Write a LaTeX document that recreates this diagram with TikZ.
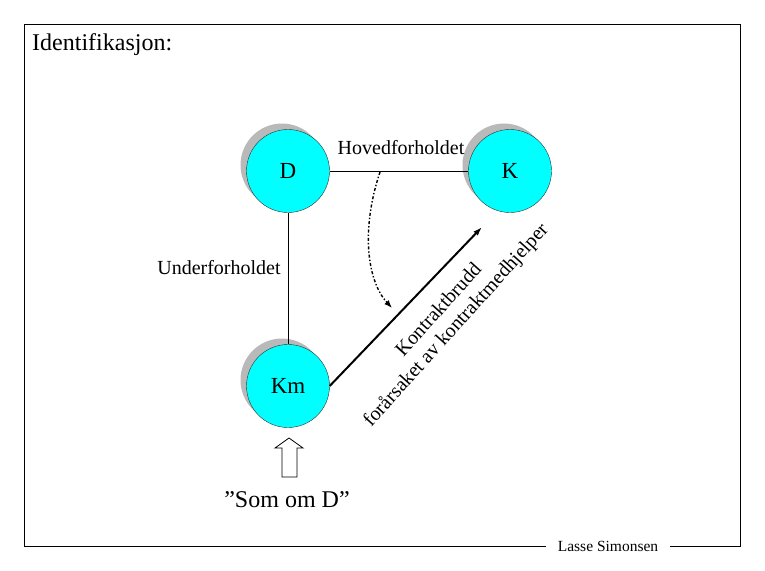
\documentclass[tikz,border=0pt]{standalone}
\usepackage{fontspec}
\setmainfont{Liberation Serif}
\usetikzlibrary{arrows.meta, shadows}
\definecolor{partyfill}{RGB}{0,255,255}

\begin{document}
\begin{tikzpicture}[x=1pt, y=-1pt,
    party/.style={circle, draw=black!80, fill=partyfill, minimum size=83pt, inner sep=0pt,
        font=\fontsize{23}{26}\selectfont,
        drop shadow={shadow xshift=-6pt, shadow yshift=6pt, fill=gray!55, opacity=1}},
    lbl/.style={font=\fontsize{20}{24}\selectfont, inner sep=0pt}]
    \useasboundingbox (0,0) rectangle (765,570);
    \draw[line width=0.8pt] (24,24) rectangle (740,546);
    \node[anchor=west, inner sep=0pt, font=\fontsize{24}{28}\selectfont] (title) at (32,45) {Identifikasjon:};

    \node[party] (d) at (288,171) {D};
    \node[party] (k) at (510,171) {K};
    \node[party] (km) at (288,386) {Km};

    \draw[line width=0.8pt] (d) -- (k);
    \draw[line width=0.8pt] (d) -- (km);
    \node[lbl] (hoved) at (401,148) {Hovedforholdet};
    \node[lbl] (under) at (219,268) {Underforholdet};

    % kontraktbrudd
    \coordinate (tip) at (482,227);
    \draw[line width=2pt, -{Latex[length=9pt, width=6pt]}] (km.east) -- (tip);
    \node[lbl, rotate=48, align=center, font=\fontsize{20}{23}\selectfont] (brudd) at (448,318)
        {Kontraktbrudd\\forårsaket av kontraktmedhjelper};

    \coordinate (from) at (380,172);
    \coordinate (to) at (392,308);
    \draw[line width=1.4pt, dash dot, -{Latex[length=8pt, width=6pt]}] (from) .. controls (360,232) and (368,282) .. (to);

    % som om D
    \draw[line width=0.8pt, fill=white] (282,477) -- (297,477) -- (297,448) -- (303,448)
        -- (289,438) -- (275,448) -- (282,448) -- cycle;
    \node[lbl, font=\fontsize{24}{28}\selectfont] (som) at (287,500) {”Som om D”};

    \node[fill=white, inner xsep=12pt, font=\fontsize{15.5}{18}\selectfont] (sign) at (608,546) {Lasse Simonsen};
\end{tikzpicture}
\end{document}
